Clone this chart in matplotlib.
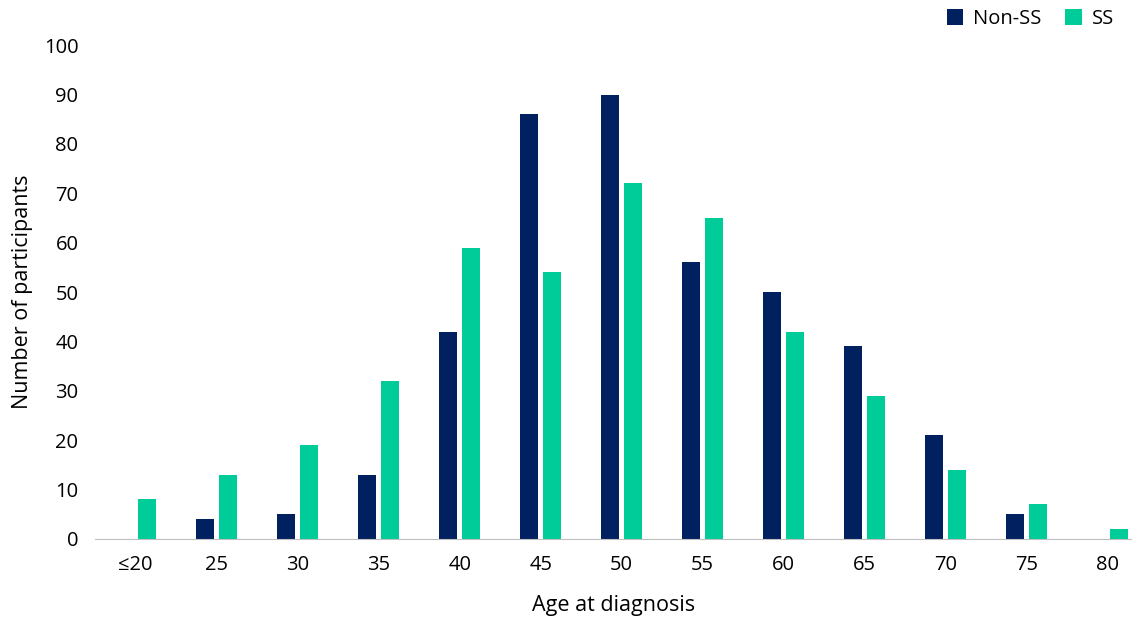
import numpy as np
import matplotlib.pyplot as plt

plt.rcParams['font.family'] = ['Open Sans', 'DejaVu Sans']

ages = ['≤20', '25', '30', '35', '40', '45', '50', '55', '60', '65', '70', '75', '80']
non_ss = [0, 4, 5, 13, 42, 86, 90, 56, 50, 39, 21, 5, 0]
ss = [8, 13, 19, 32, 59, 54, 72, 65, 42, 29, 14, 7, 2]

fig = plt.figure(figsize=(11.32, 6.2), dpi=100)
ax = fig.add_axes([0.084, 0.131, 0.916, 0.796])

x = np.arange(len(ages))
w = 0.225
ax.bar(x - 0.14, non_ss, w, color='#002060', label='Non-SS')
ax.bar(x + 0.14, ss, w, color='#00CC99', label='SS')

ax.set_xlim(-0.5, 12.3)
ax.set_ylim(0, 100)
ax.set_yticks(range(0, 101, 10))
ax.set_xticks(x)
ax.set_xticklabels(ages)
ax.tick_params(axis='both', length=0, labelsize=14.5, pad=12)
for s in ['top', 'right', 'left']:
    ax.spines[s].set_visible(False)
ax.spines['bottom'].set_color('#bfbfbf')
ax.set_ylabel('Number of participants', fontsize=15.5, labelpad=8)
ax.set_xlabel('Age at diagnosis', fontsize=15.5, labelpad=14)
ax.legend(loc='upper right', bbox_to_anchor=(1.0, 1.11), ncol=2, frameon=False,
          fontsize=14.5, handlelength=0.8, handleheight=0.8, columnspacing=1.2,
          handletextpad=0.5)

fig.savefig('out.png')
